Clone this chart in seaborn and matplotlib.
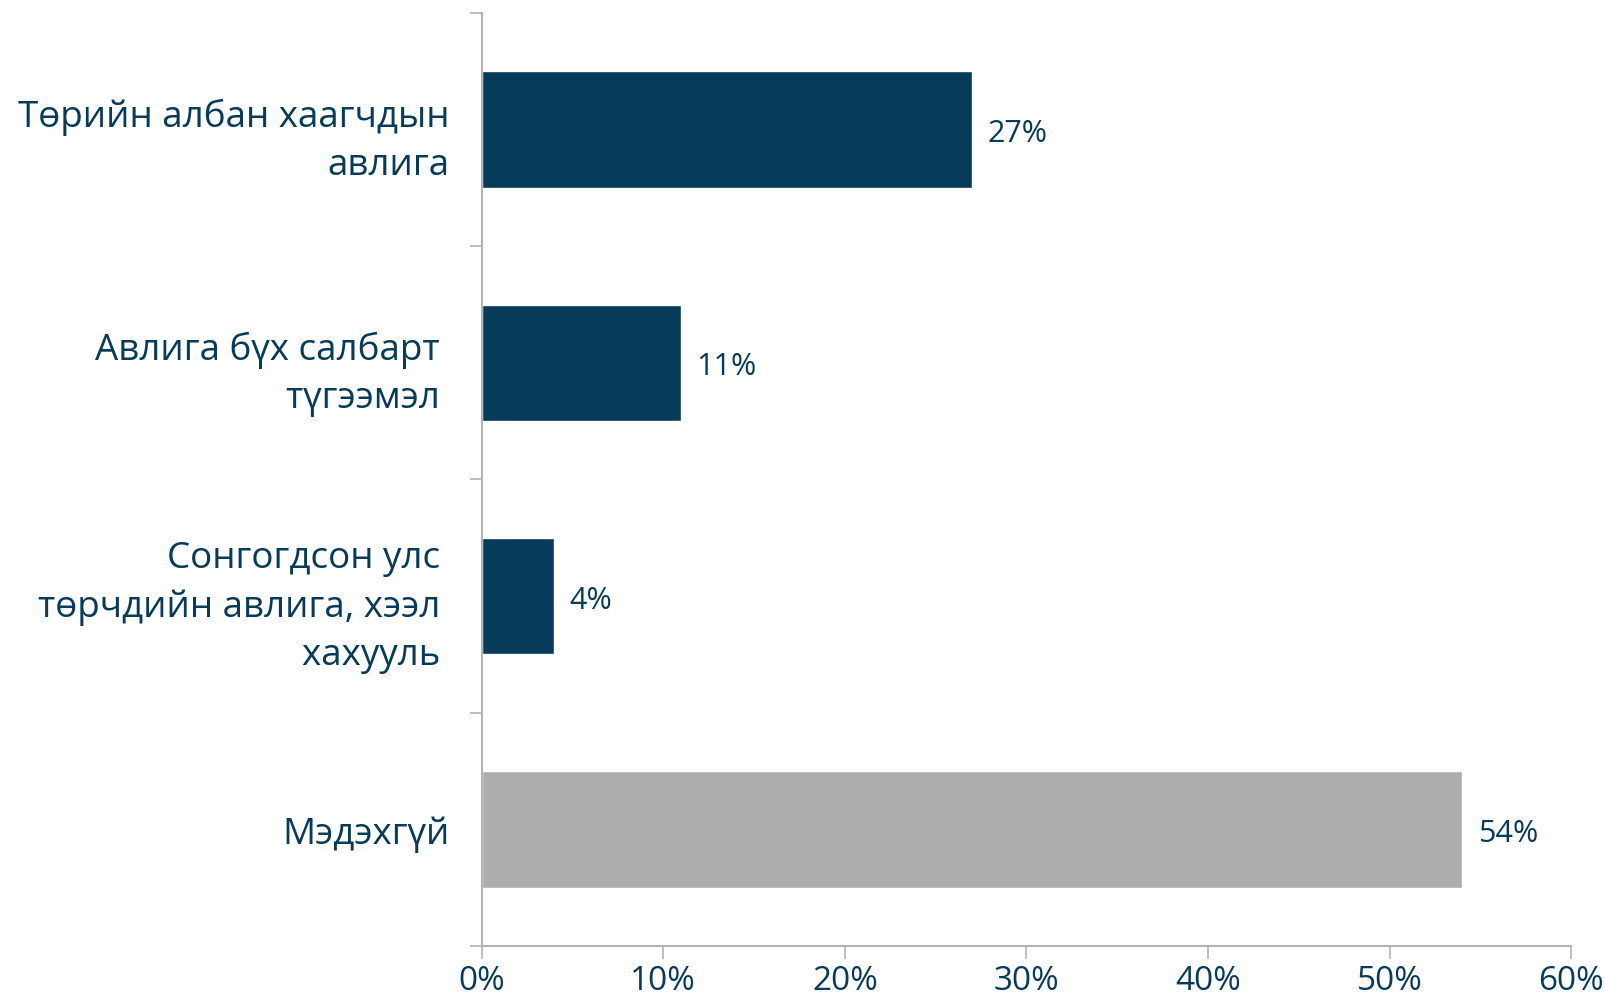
import pandas as pd
import seaborn as sns
import matplotlib.pyplot as plt
from matplotlib.ticker import FixedLocator, FuncFormatter

categories = [
    "Төрийн албан хаагчдын\nавлига",
    "Авлига бүх салбарт \nтүгээмэл ",
    "Сонгогдсон улс \nтөрчдийн авлига, хээл \nхахууль ",
    "Мэдэхгүй",
]
values = [27, 11, 4, 54]
bar_colors = ["#073B5A", "#073B5A", "#073B5A", "#ADADB0"]
x_ticks = [0, 10, 20, 30, 40, 50, 60]

navy = "#073B5A"
axis_grey = "#B3B3B3"

sns.set_theme(style="white")
plt.rcParams["font.family"] = ["Open Sans", "DejaVu Sans"]

df = pd.DataFrame({"category": categories, "value": values})

fig = plt.figure(figsize=(16.05, 10.03), dpi=100)
ax = fig.add_axes([0.300, 0.056, 0.679, 0.930])

sns.barplot(data=df, x="value", y="category", hue="category",
            palette=bar_colors, legend=False, width=0.5, orient="h",
            saturation=1, ax=ax)

ax.set_xlim(0, 60)
ax.set_ylim(3.5, -0.5)
ax.set_xlabel("")
ax.set_ylabel("")

ax.set_xticks(x_ticks)
ax.xaxis.set_major_formatter(FuncFormatter(lambda v, p: f"{v:.0f}%"))
ax.tick_params(axis="x", labelsize=24, colors=axis_grey, labelcolor=navy,
               length=9, width=1.2, direction="out", pad=4, bottom=True)

ax.tick_params(axis="y", which="major", length=0, labelsize=26.5,
               labelcolor=navy, pad=23)
ax.yaxis.set_minor_locator(FixedLocator([-0.5, 0.5, 1.5, 2.5, 3.5]))
ax.tick_params(axis="y", which="minor", length=9, width=1.2,
               color=axis_grey, direction="out", left=True)

for lab in ax.get_yticklabels():
    lab.set_horizontalalignment("right")
    lab.set_multialignment("right")
    lab.set_linespacing(1.45)

sns.despine(ax=ax, top=True, right=True)
for side in ["left", "bottom"]:
    ax.spines[side].set_color(axis_grey)
    ax.spines[side].set_linewidth(1.5)

for container in ax.containers:
    texts = ax.bar_label(container,
                         labels=[f"{v:.0f}%" for v in container.datavalues],
                         padding=11, fontsize=22, color=navy)
    for t in texts:
        t.set_verticalalignment("center_baseline")

fig.savefig("out.png", dpi=100)
